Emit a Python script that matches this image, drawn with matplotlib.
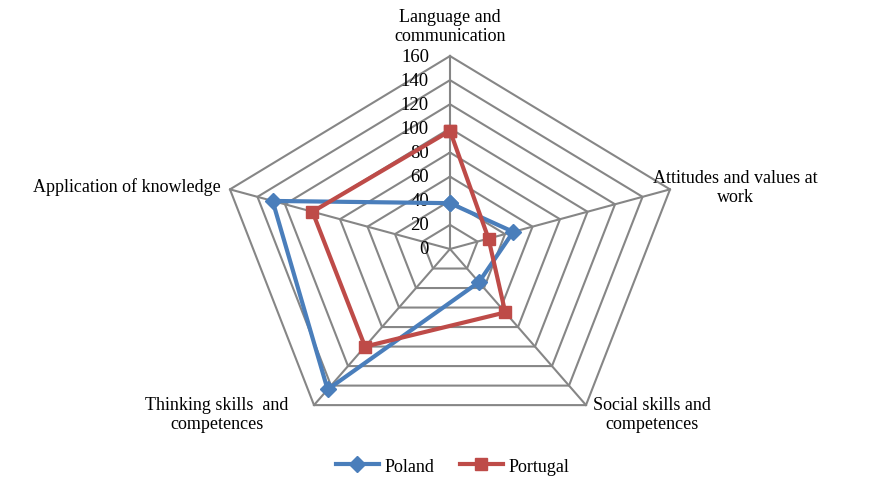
import numpy as np
import matplotlib.pyplot as plt
from matplotlib.lines import Line2D

categories = ["Language and\ncommunication", "Attitudes and values at\nwork",
              "Social skills and\ncompetences", "Thinking skills  and\ncompetences",
              "Application of knowledge"]
poland = [38, 46, 34, 144, 129]
portugal = [98, 28, 65, 100, 100]
ticks = [0, 20, 40, 60, 80, 100, 120, 140, 160]

plt.rcParams["font.family"] = ["Liberation Serif", "DejaVu Serif"]

n = len(categories)
theta = np.arange(n) * 2 * np.pi / n
sx, sy = np.sin(theta), np.cos(theta)

def xy(vals):
    v = np.array(vals, dtype=float)
    x = np.append(v * sx, v[0] * sx[0])
    y = np.append(v * sy, v[0] * sy[0])
    return x, y

fig = plt.figure(figsize=(8.7, 4.81), dpi=100)
ax = fig.add_axes([0, 0, 1, 1])
# pixel scale of the reference: 1.446 px/unit horizontally, 1.206 px/unit vertically
kx, ky = 1.446, 1.206
ax.set_xlim(-450 / kx, 420 / kx)
ax.set_ylim(-231 / ky, 250 / ky)
ax.axis("off")

grid_c = "#868686"
for t in ticks[1:]:
    gx, gy = xy([t] * n)
    ax.plot(gx, gy, color=grid_c, lw=1.5, zorder=1)
for i in range(n):
    ax.plot([0, ticks[-1] * sx[i]], [0, ticks[-1] * sy[i]], color=grid_c, lw=1.5, zorder=1)

for t in ticks:
    ax.text(-21 / kx, t, str(t), ha="right", va="center", fontsize=13.5, zorder=2)

px, py = xy(poland)
ax.plot(px, py, color="#4A7EBB", lw=3, marker="D", ms=8, zorder=3)
qx, qy = xy(portugal)
ax.plot(qx, qy, color="#BE4B48", lw=3, marker="s", ms=9, zorder=4)

# category labels
fs = 13
ls = 1.2
ax.text(0, (250 - 27) / ky, categories[0], ha="center", va="center", fontsize=fs, linespacing=ls)
ax.text(285 / kx, (250 - 188) / ky, categories[1], ha="center", va="center", fontsize=fs, linespacing=ls)
ax.text(202 / kx, (250 - 415) / ky, categories[2], ha="center", va="center", fontsize=fs, linespacing=ls)
ax.text(-233 / kx, (250 - 415) / ky, categories[3], ha="center", va="center", fontsize=fs, linespacing=ls)
ax.text(-229 / kx, (250 - 187) / ky, categories[4], ha="right", va="center", fontsize=fs)

handles = [Line2D([], [], color="#4A7EBB", lw=3, marker="D", ms=8),
           Line2D([], [], color="#BE4B48", lw=3, marker="s", ms=9)]
fig.legend(handles, ["Poland", "Portugal"], loc="center", bbox_to_anchor=(0.52, 0.029),
           ncol=2, frameon=False, fontsize=13, handlelength=2.4, columnspacing=1.4, handletextpad=0.3)

fig.savefig("out.png", dpi=100)
